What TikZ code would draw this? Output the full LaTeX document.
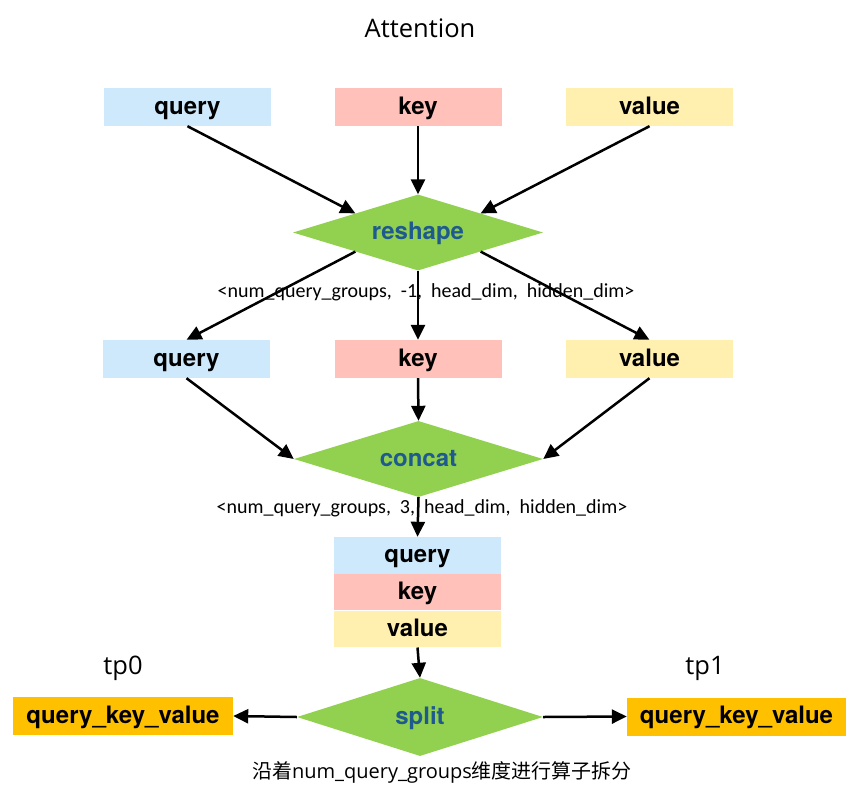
\documentclass[tikz,border=0pt]{standalone}
\usepackage{fontspec}
\setmainfont{TeX Gyre Heros}
\newfontfamily\opensans{Open Sans}
\newfontfamily\carlito{Carlito}
\newfontfamily\cjk{Noto Sans CJK SC}
\usetikzlibrary{arrows.meta,shapes.geometric,positioning,calc}
\definecolor{qblue}{HTML}{CDE9FB}
\definecolor{kred}{HTML}{FFC1BA}
\definecolor{vyellow}{HTML}{FFF0B0}
\definecolor{opgreen}{HTML}{92D050}
\definecolor{optext}{HTML}{1F5A8F}
\definecolor{qkvorange}{HTML}{FFC000}
\tikzstyle{tbox} = [rectangle, inner sep=0pt, minimum width=167pt, minimum height=38pt, text height=18pt, text depth=4pt, font=\fontsize{24}{28}\selectfont\bfseries]
\tikzstyle{qbox} = [tbox, fill=qblue]
\tikzstyle{kbox} = [tbox, fill=kred]
\tikzstyle{vbox} = [tbox, fill=vyellow]
\tikzstyle{qkvbox} = [tbox, fill=qkvorange, minimum width=220pt]
\tikzstyle{opdiamond} = [diamond, aspect=3.3, fill=opgreen, inner sep=0pt, minimum width=250pt, minimum height=76pt, text height=18pt, text depth=4pt, text=optext, font=\fontsize{24}{28}\selectfont\bfseries]
\tikzstyle{shapelbl} = [inner sep=0pt, font=\carlito\fontsize{20}{23}\selectfont]
\tikzstyle{plain} = [inner sep=0pt, font=\opensans\fontsize{25.5}{30}\selectfont]
\tikzstyle{flow} = [-{Triangle[length=15pt,width=14pt]}, line width=2.5pt]
\newcommand{\dsp}{\hspace{0.45em}}

\begin{document}
\begin{tikzpicture}[x=1pt,y=-1pt]
\useasboundingbox (0,0) rectangle (852,788);
\node[plain] (title) at (420,28) {Attention};
% inputs
\node[qbox] (q1) at (187.5,107) {query};
\node[kbox] (k1) at (418,107) {key};
\node[vbox] (v1) at (649.5,107) {value};
\node[opdiamond] (reshape) at (418,232.5) {reshape};
\node[shapelbl] (shape1) at (426,292) {<num\_query\_groups,\dsp-1,\dsp head\_dim,\dsp hidden\_dim>};
% reshaped
\node[qbox] (q2) at (186.5,359) {query};
\node[kbox] (k2) at (418,359) {key};
\node[vbox] (v2) at (649.5,359) {value};
\node[opdiamond, minimum width=249pt] (concat) at (418.5,459) {concat};
\node[shapelbl] (shape2) at (422,508) {<num\_query\_groups,\dsp 3,\dsp head\_dim,\dsp hidden\_dim>};
% stacked
\node[qbox, minimum height=36.5pt] (q3) at (417.5,555.25) {query};
\node[kbox, minimum height=36.5pt, below=0pt of q3] (k3) {key};
\node[vbox, minimum height=36.5pt, below=0pt of k3] (v3) {value};
\node[opdiamond, minimum width=246pt, minimum height=78pt] (split) at (420,717) {split};
\node[plain] (tp0) at (123,668) {tp0};
\node[plain] (tp1) at (705,668) {tp1};
\node[qkvbox] (qkv0) at (123,716) {query\_key\_value};
\node[qkvbox, minimum width=219pt] (qkv1) at (736.5,716.5) {query\_key\_value};
\node[inner sep=0pt, font=\cjk\fontsize{20}{23}\selectfont] (note) at (442,772) {沿着{\opensans num\_query\_groups}维度进行算子拆分};

\draw[flow] (q1.south) -- ($(reshape.west)!0.5!(reshape.north)$);
\draw[flow] (k1.south) -- (reshape.north);
\draw[flow] (v1.south) -- ($(reshape.east)!0.5!(reshape.north)$);
\draw[flow] ($(reshape.west)!0.5!(reshape.south)$) -- (q2.north);
\draw[flow] (reshape.south) -- (k2.north);
\draw[flow] ($(reshape.east)!0.5!(reshape.south)$) -- (v2.north);
\draw[flow] (q2.south) -- (concat.west);
\draw[flow] (k2.south) -- (concat.north);
\draw[flow] (v2.south) -- (concat.east);
\draw[flow] (concat.south) -- (q3.north);
\draw[flow] (v3.south) -- (split.north);
\draw[flow] (split.west) -- (qkv0.east);
\draw[flow] (split.east) -- (qkv1.west);
\end{tikzpicture}
\end{document}
